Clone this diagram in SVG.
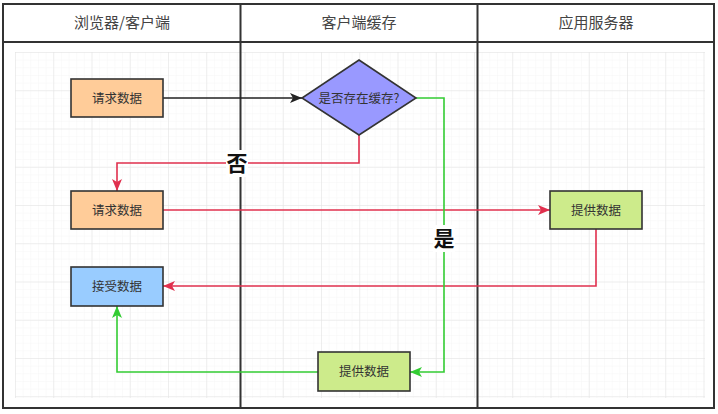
<svg xmlns="http://www.w3.org/2000/svg" width="718" height="414" viewBox="0 0 718 414">
<defs>
<pattern id="minor" width="7.65" height="7.65" patternUnits="userSpaceOnUse" x="15" y="52">
<path d="M0 0H7.65M0 0V7.65" fill="none" stroke="#f4f4f4" stroke-width="0.8"/>
</pattern>
<pattern id="major" width="38.25" height="38.25" patternUnits="userSpaceOnUse" x="15" y="52">
<path d="M0 0H38.25M0 0V38.25" fill="none" stroke="#e2e2e2" stroke-width="1"/>
</pattern>
<marker id="ab" viewBox="0 0 12 10" refX="12" refY="5" markerWidth="12" markerHeight="10" markerUnits="userSpaceOnUse" orient="auto"><path d="M0 0L12 5L0 10L3 5Z" fill="#222"/></marker>
<marker id="ar" viewBox="0 0 12 10" refX="12" refY="5" markerWidth="12" markerHeight="10" markerUnits="userSpaceOnUse" orient="auto"><path d="M0 0L12 5L0 10L3 5Z" fill="#e0304e"/></marker>
<marker id="ag" viewBox="0 0 12 10" refX="12" refY="5" markerWidth="12" markerHeight="10" markerUnits="userSpaceOnUse" orient="auto"><path d="M0 0L12 5L0 10L3 5Z" fill="#33cc33"/></marker>
<style>
.hd{font-family:"Noto Sans CJK SC","Noto Sans",sans-serif;font-size:15px;fill:#444;text-anchor:middle}
.tx{font-family:"Noto Sans CJK SC","Noto Sans",sans-serif;font-size:12.5px;fill:#333;text-anchor:middle}
.lb{font-family:"Noto Sans CJK SC","Noto Sans",sans-serif;font-size:21px;font-weight:bold;fill:#111;text-anchor:middle}
.box{stroke:#333;stroke-width:1.6}
.frame{fill:none;stroke:#333;stroke-width:2}
.c{fill:none;stroke-width:1.6}
.r{stroke:#e0304e}
.g{stroke:#33cc33}
.k{stroke:#222}
</style>
</defs>
<rect width="718" height="414" fill="#fff"/>
<g id="grid">
<rect x="15" y="52" width="690" height="346" fill="url(#minor)"/>
<rect x="15" y="52" width="690" height="346" fill="url(#major)"/>
</g>
<g id="lanes">
<rect class="frame" x="3" y="4" width="711" height="404"/>
<line class="frame" x1="3" y1="42" x2="714" y2="42"/>
<line class="frame" x1="240.5" y1="4" x2="240.5" y2="408"/>
<line class="frame" x1="477.5" y1="4" x2="477.5" y2="408"/>
<text class="hd" x="122" y="28">浏览器/客户端</text>
<text class="hd" x="359" y="28">客户端缓存</text>
<text class="hd" x="596" y="28">应用服务器</text>
</g>
<g id="connectors">
<path class="c k" d="M163 98H302" marker-end="url(#ab)"/>
<path class="c r" d="M359 135V163H117V191" marker-end="url(#ar)"/>
<path class="c r" d="M163 210H550" marker-end="url(#ar)"/>
<path class="c r" d="M596 229V286H163" marker-end="url(#ar)"/>
<path class="c g" d="M416 98H444V372H410" marker-end="url(#ag)"/>
<path class="c g" d="M318 372H117V306" marker-end="url(#ag)"/>
<rect x="226" y="150" width="22" height="27" fill="#fff"/>
<text class="lb" x="237" y="171">否</text>
<rect x="433" y="225" width="22" height="27" fill="#fff"/>
<text class="lb" x="444" y="246">是</text>
</g>
<g id="n1">
<rect class="box" x="71" y="79" width="92" height="38" fill="#ffcc99"/>
<text class="tx" x="117" y="102.5">请求数据</text>
</g>
<g id="n2">
<path class="box" d="M359 60L416 98L359 135L302 98Z" fill="#9999ff"/>
<text class="tx" x="359" y="102.5" fill="#333">是否存在缓存?</text>
</g>
<g id="n3">
<rect class="box" x="71" y="191" width="92" height="38" fill="#ffcc99"/>
<text class="tx" x="117" y="214.5">请求数据</text>
</g>
<g id="n4">
<rect class="box" x="550" y="191" width="92" height="38" fill="#cdeb8b"/>
<text class="tx" x="596" y="214.5">提供数据</text>
</g>
<g id="n5">
<rect class="box" x="71" y="267" width="92" height="39" fill="#99ccff"/>
<text class="tx" x="117" y="291">接受数据</text>
</g>
<g id="n6">
<rect class="box" x="318" y="352" width="92" height="39" fill="#cdeb8b"/>
<text class="tx" x="364" y="376">提供数据</text>
</g>
</svg>
